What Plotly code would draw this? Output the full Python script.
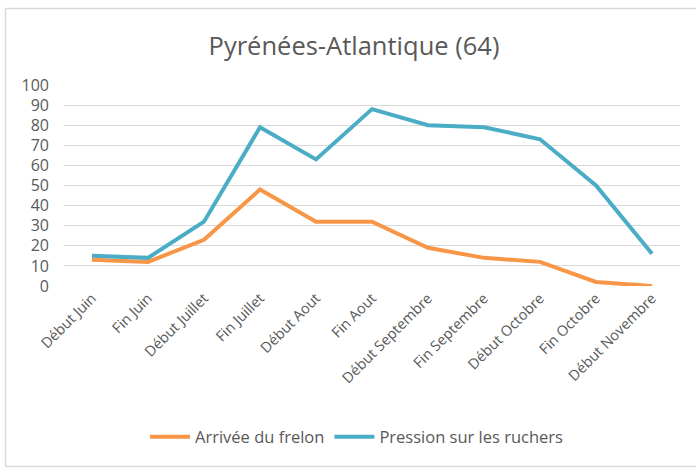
import plotly.graph_objects as go

categories = ["Début Juin", "Fin Juin", "Début Juillet", "Fin Juillet", "Début Aout",
              "Fin Aout", "Début Septembre", "Fin Septembre", "Début Octobre",
              "Fin Octobre", "Début Novembre"]
arrivee = [13, 12, 23, 48, 32, 32, 19, 14, 12, 2, 0]
pression = [15, 14, 32, 79, 63, 88, 80, 79, 73, 50, 16]
y_ticks = [0, 10, 20, 30, 40, 50, 60, 70, 80, 90, 100]

W, H = 696, 468
L, R, T, B = 64, 16, 85, 182

fig = go.Figure()
fig.add_trace(go.Scatter(x=categories, y=arrivee, mode="lines", name="Arrivée du frelon",
                         line=dict(color="#F79646", width=4), cliponaxis=False))
fig.add_trace(go.Scatter(x=categories, y=pression, mode="lines", name="Pression sur les ruchers",
                         line=dict(color="#4BACC6", width=4), cliponaxis=False))

font = "Open Sans, Liberation Sans, sans-serif"
pw = W - L - R
ph = H - T - B
def px(x):
    return (x - L) / pw
def py(y):
    return (H - B - y) / ph

border = dict(color="#D9D9D9", width=1.5)
fig.add_shape(type="line", xref="paper", yref="paper", layer="below",
              x0=px(5.5), x1=px(696), y0=py(8.5), y1=py(8.5), line=border)
fig.add_shape(type="line", xref="paper", yref="paper", layer="below",
              x0=px(5.5), x1=px(696), y0=py(466.5), y1=py(466.5), line=border)
fig.add_shape(type="line", xref="paper", yref="paper", layer="below",
              x0=px(5.5), x1=px(5.5), y0=py(8.5), y1=py(466.5), line=border)

fig.update_layout(
    width=W, height=H,
    margin=dict(l=L, r=R, t=T, b=B, autoexpand=False),
    paper_bgcolor="white", plot_bgcolor="white",
    title=dict(text="Pyrénées-Atlantique (64)", x=354 / W, xanchor="center", xref="container",
               y=1 - 46 / H, yanchor="middle", yref="container",
               font=dict(family=font, size=25.5, color="#595959")),
    font=dict(family=font, color="#595959"),
    xaxis=dict(type="category", range=[-0.5, 10.5], showgrid=False, showline=False,
               ticks="", tickangle=-45, tickfont=dict(size=14.5, color="#595959"),
               zeroline=False, automargin=False),
    yaxis=dict(range=[0, 100], tickvals=y_ticks, showgrid=True, gridcolor="#D9D9D9",
               gridwidth=1, zeroline=False, showline=False, ticks="",
               tickfont=dict(size=16, color="#595959"), ticklabelstandoff=14,
               automargin=False),
    legend=dict(orientation="h", x=357 / W, xanchor="center", xref="container",
                y=py(437), yanchor="middle",
                font=dict(size=16.5, color="#595959"), itemwidth=40),
    showlegend=True,
)

fig.write_html("out.html", config={"displayModeBar": False},
               post_script="document.body.style.margin='0';document.body.style.overflow='hidden';")
